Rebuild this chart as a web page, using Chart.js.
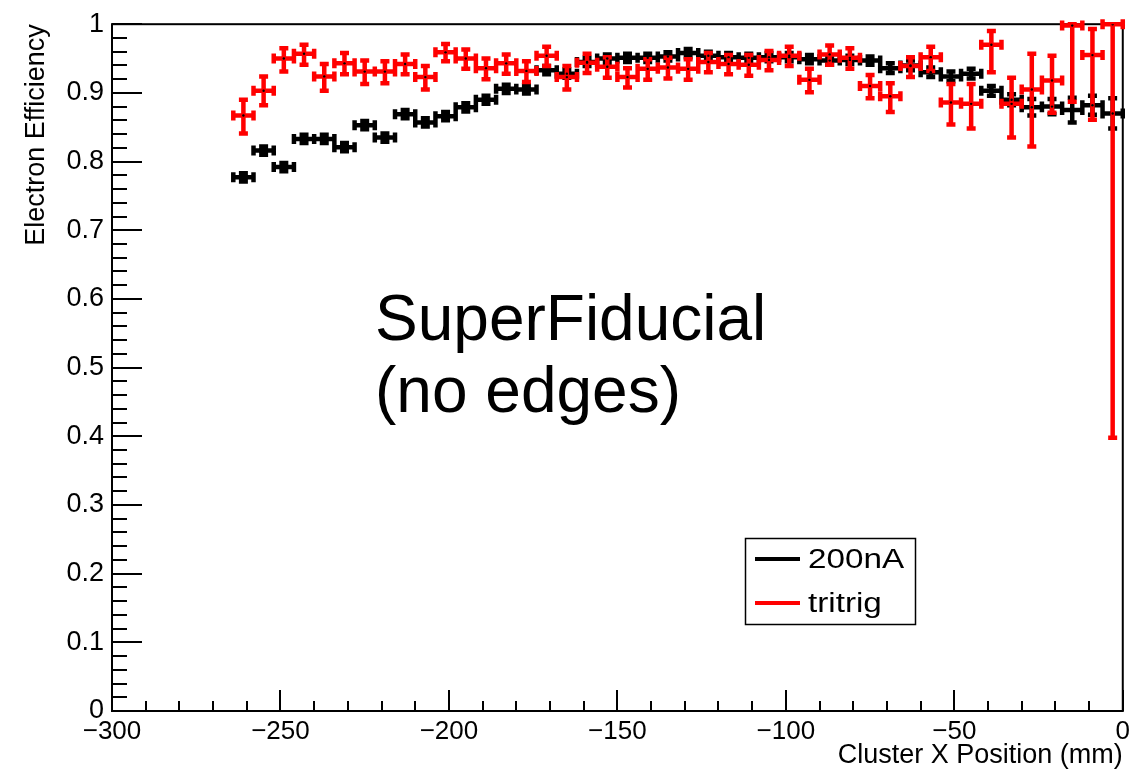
<!DOCTYPE html>
<html>
<head>
<meta charset="utf-8">
<title>Electron Efficiency</title>
<script src="https://cdn.jsdelivr.net/npm/chart.js@4/dist/chart.umd.min.js"></script>
<style>
    html, body { margin: 0; padding: 0; background: #fff; }
    canvas { display: block; }
</style>
</head>
<body>
<canvas id="eff-chart" width="1135" height="772"></canvas>
<script>
// bins of cluster x position (mm), 6 mm wide
var binCenters = [-261, -255, -249, -243, -237, -231, -225, -219, -213, -207, -201,
    -195, -189, -183, -177, -171, -165, -159, -153, -147, -141, -135, -129, -123,
    -117, -111, -105, -99, -93, -87, -81, -75, -69, -63, -57, -51, -45, -39, -33,
    -27, -21, -15, -9, -3];
var binWidth = 6;

var eff200nA = [0.777, 0.816, 0.792, 0.833, 0.833, 0.821, 0.853, 0.835, 0.869, 0.857,
    0.866, 0.879, 0.890, 0.906, 0.905, 0.933, 0.928, 0.945, 0.950, 0.951,
    0.951, 0.953, 0.958, 0.954, 0.952, 0.951, 0.952, 0.952, 0.949, 0.947,
    0.948, 0.947, 0.936, 0.940, 0.930, 0.924, 0.928, 0.903, 0.890, 0.879,
    0.880, 0.875, 0.882, 0.870];
var err200nA = [0.006, 0.006, 0.006, 0.006, 0.006, 0.006, 0.006, 0.006, 0.006, 0.006,
    0.006, 0.006, 0.006, 0.006, 0.006, 0.006, 0.006, 0.006, 0.006, 0.006,
    0.006, 0.006, 0.006, 0.006, 0.006, 0.006, 0.006, 0.006, 0.006, 0.006,
    0.006, 0.006, 0.007, 0.007, 0.007, 0.007, 0.007, 0.007, 0.008, 0.012,
    0.011, 0.018, 0.014, 0.022];

var effTritrig = [0.867, 0.903, 0.950, 0.957, 0.924, 0.943, 0.931, 0.931, 0.942, 0.923,
    0.959, 0.950, 0.936, 0.943, 0.932, 0.954, 0.923, 0.944, 0.938, 0.923,
    0.935, 0.937, 0.935, 0.945, 0.942, 0.941, 0.948, 0.954, 0.919, 0.956,
    0.951, 0.910, 0.895, 0.939, 0.952, 0.886, 0.884, 0.970, 0.884, 0.905,
    0.918, 0.998, 0.955, 1.000];
var errTritrigHigh = [0.023, 0.021, 0.015, 0.013, 0.018, 0.015, 0.016, 0.015, 0.014, 0.016,
    0.012, 0.013, 0.014, 0.013, 0.014, 0.013, 0.016, 0.013, 0.014, 0.013,
    0.014, 0.014, 0.014, 0.013, 0.013, 0.014, 0.013, 0.013, 0.016, 0.013,
    0.014, 0.016, 0.019, 0.013, 0.015, 0.027, 0.029, 0.020, 0.038, 0.052,
    0.036, 0.002, 0.038, 0.000];
var errTritrigLow = [0.026, 0.021, 0.019, 0.016, 0.021, 0.016, 0.018, 0.017, 0.015, 0.018,
    0.013, 0.015, 0.016, 0.015, 0.016, 0.015, 0.018, 0.015, 0.016, 0.015,
    0.016, 0.016, 0.016, 0.015, 0.015, 0.016, 0.015, 0.015, 0.018, 0.015,
    0.016, 0.018, 0.023, 0.016, 0.020, 0.032, 0.036, 0.040, 0.049, 0.083,
    0.047, 0.111, 0.094, 0.602];

var seriesLabels = ['200nA', 'tritrig'];
var xTicks = [-300, -250, -200, -150, -100, -50, 0];
var yTicks = [0, 0.1, 0.2, 0.3, 0.4, 0.5, 0.6, 0.7, 0.8, 0.9, 1];
var xMinorStep = 10;
var yMinorStep = 0.02;

var FONT = '"Liberation Sans", Arial, Helvetica, sans-serif';
Chart.defaults.font.family = FONT;
Chart.defaults.color = '#000';

function toPoints(values) {
    return binCenters.map(function (x, i) {
        return { x: x, y: values[i] };
    });
}

// frame with inward ticks, drawn under the points
var frame = {
    id: 'frame',
    beforeDatasetsDraw: function (chart) {
        var ctx = chart.ctx, a = chart.chartArea;
        var xs = chart.scales.x, ys = chart.scales.y;
        ctx.save();
        ctx.strokeStyle = '#000';
        ctx.lineWidth = 2;
        ctx.strokeRect(a.left, a.top, a.right - a.left, a.bottom - a.top);
        ctx.beginPath();
        var nx = Math.round((xs.max - xs.min) / xMinorStep);
        for (var i = 0; i <= nx; i++) {
            var px = Math.round(xs.getPixelForValue(xs.min + i * xMinorStep));
            var lx = (i % 5 === 0) ? 21 : 10;
            ctx.moveTo(px, a.bottom);
            ctx.lineTo(px, a.bottom - lx);
        }
        var ny = Math.round((ys.max - ys.min) / yMinorStep);
        for (var j = 0; j <= ny; j++) {
            var py = Math.round(ys.getPixelForValue(ys.min + j * yMinorStep));
            var ly = (j % 5 === 0) ? 30 : 15;
            ctx.moveTo(a.left, py);
            ctx.lineTo(a.left + ly, py);
        }
        ctx.stroke();
        ctx.restore();
    }
};

function drawErrors(chart, ds) {
    var ctx = chart.ctx, xs = chart.scales.x, ys = chart.scales.y;
    ctx.save();
    ctx.strokeStyle = ds.barColor;
    ctx.lineWidth = 4.5;
    ctx.lineCap = 'butt';
    ctx.beginPath();
    ds.data.forEach(function (p, i) {
        var xl = xs.getPixelForValue(p.x - binWidth / 2);
        var xr = xs.getPixelForValue(p.x + binWidth / 2);
        var xc = xs.getPixelForValue(p.x);
        var yc = ys.getPixelForValue(p.y);
        var yt = ys.getPixelForValue(p.y + ds.errHigh[i]);
        var yb = ys.getPixelForValue(p.y - ds.errLow[i]);
        // bin width
        ctx.moveTo(xl, yc); ctx.lineTo(xr, yc);
        ctx.moveTo(xl, yc - 5); ctx.lineTo(xl, yc + 5);
        ctx.moveTo(xr, yc - 5); ctx.lineTo(xr, yc + 5);
        // efficiency error
        ctx.moveTo(xc, yt); ctx.lineTo(xc, yb);
        ctx.moveTo(xc - 4.5, yt); ctx.lineTo(xc + 4.5, yt);
        ctx.moveTo(xc - 4.5, yb); ctx.lineTo(xc + 4.5, yb);
    });
    ctx.stroke();
    ctx.restore();
}

var errorBars = {
    id: 'errorBars',
    beforeDatasetsDraw: function (chart) {
        chart.data.datasets.forEach(function (ds) {
            drawErrors(chart, ds);
        });
    }
};

// legend box and the selection label
var overlay = {
    id: 'overlay',
    afterDraw: function (chart) {
        var ctx = chart.ctx;
        ctx.save();
        ctx.strokeStyle = '#000';
        ctx.lineWidth = 1.5;
        ctx.strokeRect(745.5, 538.5, 170, 86);
        ctx.fillStyle = '#000';
        ctx.textBaseline = 'alphabetic';
        var rows = [559, 603];
        chart.data.datasets.forEach(function (ds, i) {
            ctx.strokeStyle = ds.barColor;
            ctx.lineWidth = 4;
            ctx.beginPath();
            ctx.moveTo(755, rows[i]);
            ctx.lineTo(800, rows[i]);
            ctx.stroke();
            // legend text is set wide
            ctx.save();
            ctx.translate(808, rows[i] + 9);
            ctx.scale(1.23, 1);
            ctx.font = '27px ' + FONT;
            ctx.fillText(ds.label, 0, 0);
            ctx.restore();
        });

        ctx.font = '64px ' + FONT;
        ctx.fillText('SuperFiducial', 375, 340);
        ctx.fillText('(no edges)', 375, 412);
        ctx.restore();
    }
};

function createEffChart() {
    var ctx = document.getElementById('eff-chart');
    return new Chart(ctx, {
        type: 'scatter',
        data: {
            datasets: [{
                label: seriesLabels[0],
                data: toPoints(eff200nA),
                errLow: err200nA,
                errHigh: err200nA,
                barColor: '#000000',
                pointRadius: 1.2,
                pointBorderWidth: 0,
                pointBackgroundColor: '#000'
            }, {
                label: seriesLabels[1],
                data: toPoints(effTritrig),
                errLow: errTritrigLow,
                errHigh: errTritrigHigh,
                barColor: '#ff0000',
                pointRadius: 1.2,
                pointBorderWidth: 0,
                pointBackgroundColor: '#000'
            }]
        },
        options: {
            responsive: false,
            animation: false,
            events: [],
            layout: { padding: { left: 0, top: 20, right: 8, bottom: 0 } },
            plugins: {
                legend: { display: false },
                tooltip: { enabled: false }
            },
            scales: {
                x: {
                    type: 'linear',
                    min: -300,
                    max: 0,
                    afterBuildTicks: function (scale) {
                        scale.ticks = xTicks.map(function (v) { return { value: v }; });
                    },
                    afterFit: function (scale) { scale.height = 61; },
                    grid: { display: false, drawTicks: false },
                    border: { display: false },
                    ticks: {
                        padding: 5,
                        maxRotation: 0,
                        font: { size: 26 },
                        callback: function (v) {
                            return v < 0 ? '\u2212' + (-v) : String(v);
                        }
                    },
                    title: {
                        display: true,
                        text: 'Cluster X Position (mm)',
                        align: 'end',
                        font: { size: 27 },
                        padding: { top: 0, bottom: 0 }
                    }
                },
                y: {
                    type: 'linear',
                    min: 0,
                    max: 1,
                    afterBuildTicks: function (scale) {
                        scale.ticks = yTicks.map(function (v) { return { value: v }; });
                    },
                    afterFit: function (scale) { scale.width = 112; },
                    grid: { display: false, drawTicks: false },
                    border: { display: false },
                    ticks: {
                        padding: 8,
                        font: { size: 27 },
                        callback: function (v) {
                            return String(Math.round(v * 10) / 10);
                        }
                    },
                    title: {
                        display: true,
                        text: 'Electron Efficiency',
                        align: 'end',
                        font: { size: 27 },
                        padding: { top: 20, bottom: 0 }
                    }
                }
            }
        },
        plugins: [frame, errorBars, overlay]
    });
}

createEffChart();
</script>
</body>
</html>
